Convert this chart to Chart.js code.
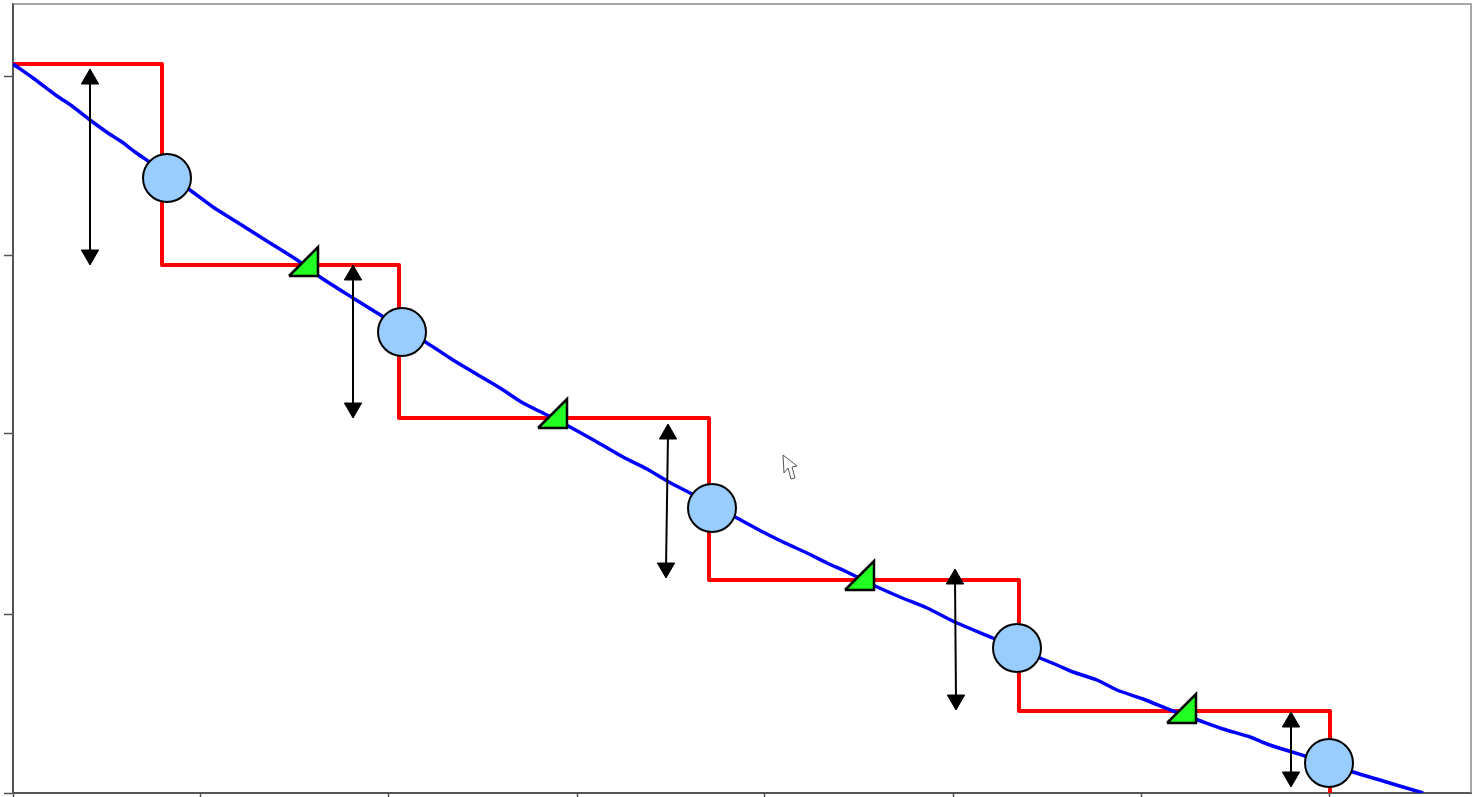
<!DOCTYPE html>
<html>
<head>
<meta charset="utf-8">
<title>Step line chart</title>
<script src="https://cdn.jsdelivr.net/npm/chart.js@4/dist/chart.umd.min.js"></script>
<style>
  html, body { margin: 0; padding: 0; background: #fff; overflow: hidden; }
  canvas { display: block; }
</style>
</head>
<body>
<canvas id="chart" width="1476" height="797"></canvas>
<script>
const xTicks = [0, 188, 376, 564, 752, 940, 1128, 1316];
const yTicks = [0, 179, 359, 538, 717];

const curveX = [0, 20, 44, 59, 77, 95, 109, 122, 135, 177, 200, 227, 257, 284, 307, 340, 369, 414, 440, 460, 487, 510, 534, 557, 584, 610, 634, 654, 677, 724, 750, 770, 794, 814, 834, 860, 887, 914, 944, 980, 1027, 1044, 1060, 1084, 1104, 1130, 1160, 1185, 1210, 1237, 1254, 1279, 1292, 1340, 1370, 1410];
const curveY = [729, 715, 697, 687, 673, 660, 651, 641, 632, 603, 586, 569, 550, 533, 516, 495, 477, 450, 433, 421, 405, 390, 378, 366, 351, 336, 324, 312, 300, 275, 261, 251, 240, 230, 221, 208, 196, 185, 170, 155, 135, 128, 121, 113, 103, 94, 82, 73, 64, 56, 49, 41, 37, 21, 12, 0];

const stepX = [0, 149, 149, 386, 386, 696, 696, 1006, 1006, 1317, 1317];
const stepY = [729, 729, 528, 528, 375, 375, 213, 213, 82, 82, 0];

const circleX = [154, 389, 699, 1004, 1316];
const circleY = [615, 461, 285, 145, 30];

const triangleX = [
  [276, 305, 305, 276],
  [525, 554, 554, 525],
  [832, 861, 861, 832],
  [1154, 1183, 1183, 1154],
];
const triangleY = [
  [517, 517, 546, 517],
  [365, 365, 394, 365],
  [203, 203, 232, 203],
  [70, 70, 99, 70],
];

const arrowX = [[77, 77], [340, 340], [655, 653], [942, 943], [1278, 1278]];
const arrowY = [[714, 538], [518, 385], [359, 225], [214, 93], [71, 16]];

const cursorX = [770, 771, 775, 778, 782, 779, 784, 770];
const cursorY = [338, 320, 325, 314, 315, 326, 327, 338];

function toPoints(xs, ys) {
  return xs.map((x, i) => ({ x, y: ys[i] }));
}

const datasets = [
  {
    label: "circles",
    data: toPoints(circleX, circleY),
    showLine: false,
    pointRadius: 24,
    pointBackgroundColor: "#99ccff",
    pointBorderColor: "#000",
    pointBorderWidth: 2,
    clip: false,
  },
];

for (let i = 0; i < triangleX.length; i++) {
  datasets.push({
    label: `triangle ${i + 1}`,
    data: toPoints(triangleX[i], triangleY[i]),
    showLine: true,
    fill: "shape",
    backgroundColor: "#22ff22",
    borderColor: "#000",
    borderWidth: 2.5,
    borderJoinStyle: "miter",
    pointRadius: 0,
  });
}

for (let i = 0; i < arrowX.length; i++) {
  datasets.push({
    label: `arrow ${i + 1}`,
    data: toPoints(arrowX[i], arrowY[i]),
    showLine: true,
    borderColor: "#000",
    borderWidth: 2,
    pointStyle: "triangle",
    pointRadius: 10,
    pointRotation: [0, 180],
    pointBackgroundColor: "#000",
    pointBorderColor: "#000",
    pointBorderWidth: 1,
  });
}

datasets.push(
  {
    label: "curve",
    data: toPoints(curveX, curveY),
    showLine: true,
    borderColor: "#0000ff",
    borderWidth: 3.5,
    tension: 0.25,
    pointRadius: 0,
  },
  {
    label: "steps",
    data: toPoints(stepX, stepY),
    showLine: true,
    borderColor: "#ff0000",
    borderWidth: 4,
    borderJoinStyle: "round",
    pointRadius: 0,
  },
  {
    label: "cursor",
    data: toPoints(cursorX, cursorY),
    showLine: true,
    fill: "shape",
    backgroundColor: "#fff",
    borderColor: "#555",
    borderWidth: 1,
    borderJoinStyle: "miter",
    pointRadius: 0,
  },
);

// top and right edges are lighter than the two axes
const framePlugin = {
  id: "frame",
  beforeDatasetsDraw(chart) {
    const { ctx, chartArea } = chart;
    ctx.save();
    ctx.strokeStyle = "#8a8a8a";
    ctx.lineWidth = 1.5;
    ctx.beginPath();
    ctx.moveTo(chartArea.left, chartArea.top);
    ctx.lineTo(chartArea.right, chartArea.top);
    ctx.lineTo(chartArea.right, chartArea.bottom);
    ctx.stroke();
    ctx.restore();
  },
};

function axisOptions(max, tickValues, tickLength) {
  return {
    type: "linear",
    min: 0,
    max,
    afterBuildTicks(scale) {
      scale.ticks = tickValues.map((value) => ({ value }));
    },
    ticks: { display: false },
    grid: {
      drawOnChartArea: false,
      drawTicks: true,
      tickLength,
      tickColor: "#555",
      tickWidth: 1.5,
    },
    border: { color: "#555", width: 2 },
  };
}

new Chart(document.getElementById("chart"), {
  type: "scatter",
  data: { datasets },
  plugins: [framePlugin],
  options: {
    responsive: false,
    animation: false,
    layout: { autoPadding: false, padding: { left: 4, top: 4, right: 5, bottom: 0 } },
    plugins: {
      legend: { display: false },
      tooltip: { enabled: false },
    },
    scales: {
      x: axisOptions(1458, xTicks, 4),
      y: axisOptions(789, yTicks, 9),
    },
  },
});
</script>
</body>
</html>
